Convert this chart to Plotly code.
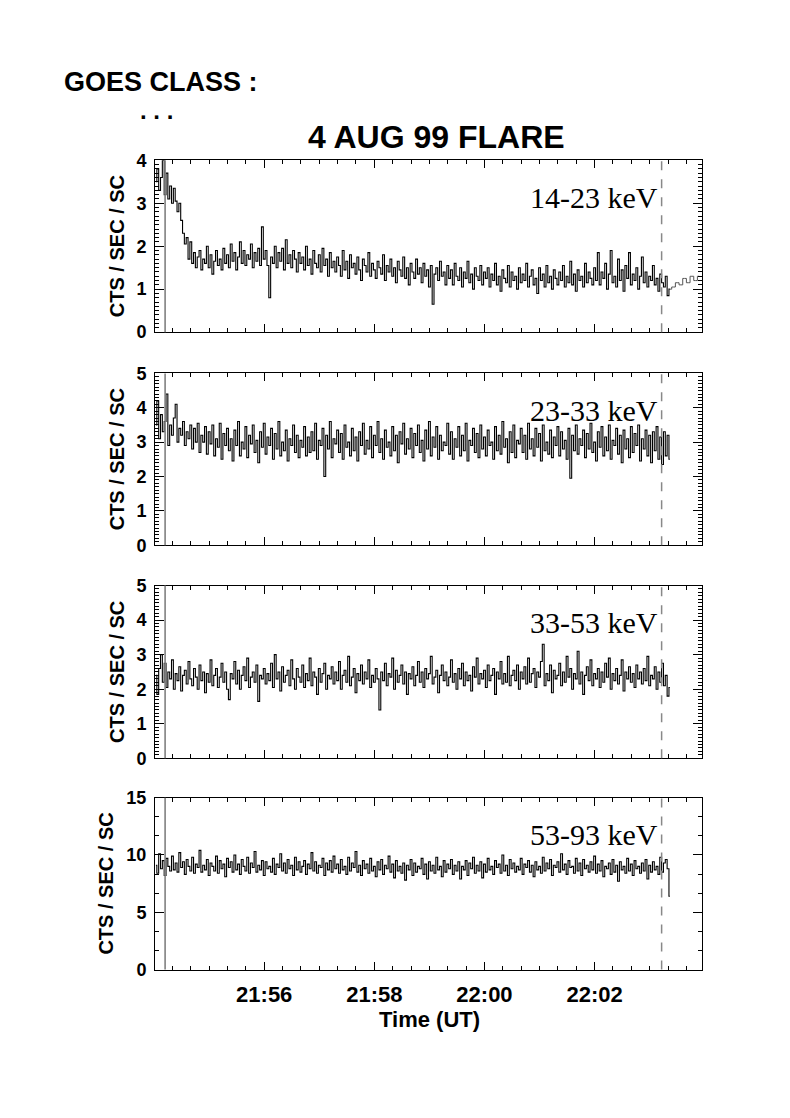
import plotly.graph_objects as go
import pandas as pd

W, H = 790, 1118

# ---------------- data (counts / sec / SC, 2 s bins) ----------------
BIN_START = "1999-08-04 21:54:02"
BIN_SECONDS = 2
TAIL_BIN_SECONDS = 4

rate_14_23 = [
    3.5, 3.8, 3.3, 3.6, 4.0, 3.2, 3.7, 3.1, 3.4, 3.0, 3.35, 3.05, 2.8, 3.0, 2.6, 2.3, 2.05, 2.2, 1.7, 2.1,
    1.6, 1.85, 1.5, 1.75, 1.9, 1.45, 1.7, 1.6, 2.0, 1.5, 1.8, 1.35, 1.65, 1.9, 1.55, 1.7, 1.45, 1.95, 1.6, 1.8,
    1.5, 2.05, 1.65, 1.85, 1.45, 1.75, 2.1, 1.6, 1.9, 1.55, 1.8, 1.7, 2.05, 1.5, 1.85, 1.65, 1.95, 1.55, 2.45, 1.7,
    1.9, 1.55, 0.8, 1.75, 1.6, 2.0, 1.5, 1.85, 1.65, 1.95, 1.45, 2.15, 1.6, 1.8, 1.5, 1.9, 1.7, 1.4, 1.85, 1.6,
    1.75, 1.45, 2.0, 1.55, 1.7, 1.35, 1.9, 1.6, 1.5, 1.8, 1.4, 1.95, 1.55, 1.7, 1.3, 1.85, 1.5, 1.65, 1.4, 1.75,
    1.55, 1.3, 1.9, 1.45, 1.65, 1.25, 1.8, 1.5, 1.6, 1.35, 1.75, 1.45, 1.2, 1.7, 1.55, 1.4, 1.85, 1.3, 1.6, 1.45,
    1.25, 1.65, 1.5, 1.35, 1.8, 1.2, 1.55, 1.4, 1.7, 1.3, 1.5, 1.15, 1.65, 1.45, 1.3, 1.75, 1.25, 1.5, 1.1, 1.6,
    1.4, 1.25, 1.7, 1.35, 1.5, 1.15, 1.6, 1.3, 1.45, 1.05, 1.55, 0.65, 1.35, 1.5, 1.2, 1.65, 1.3, 1.4, 1.1, 1.55,
    1.25, 1.45, 1.1, 1.6, 1.3, 1.2, 1.5, 1.05, 1.4, 1.25, 1.65, 1.15, 1.35, 1.0, 1.5, 1.3, 1.2, 1.55, 1.1, 1.4,
    1.25, 1.5, 1.05, 1.35, 1.2, 1.6, 1.1, 1.3, 0.95, 1.45, 1.25, 1.15, 1.55, 1.05, 1.4, 1.2, 1.3, 1.0, 1.5, 1.15,
    1.35, 1.2, 1.6, 1.05, 1.3, 1.45, 1.1, 1.25, 0.9, 1.5, 1.2, 1.35, 1.05, 1.55, 1.15, 1.3, 1.0, 1.45, 1.25, 1.1,
    1.4, 1.2, 1.55, 1.05, 1.3, 1.15, 1.65, 1.1, 1.35, 0.95, 1.45, 1.2, 1.3, 1.05, 1.6, 1.15, 1.4, 1.25, 1.1, 1.5,
    1.2, 1.85, 1.1, 1.4, 1.25, 1.6, 1.0, 1.35, 1.9, 1.15, 1.3, 1.05, 1.7, 1.2, 1.45, 0.95, 1.55, 1.25, 1.85, 1.1,
    1.35, 1.2, 1.5, 1.0, 1.3, 1.75, 1.15, 1.4, 1.05, 1.3, 1.2, 1.55, 1.1, 1.25, 0.95, 1.35, 1.15, 1.05, 1.3, 0.85,
    1.0,
]
tail_14_23 = [1.05, 1.15, 1.1, 1.25, 1.15, 1.3, 1.2, 1.3]

rate_23_33 = [
    3.5, 4.2, 3.1, 3.8, 3.3, 3.6, 4.4, 2.9, 3.5, 3.2, 3.7, 4.1, 3.0, 3.4, 3.2, 3.6, 2.9, 3.3, 3.1, 3.5,
    2.8, 3.4, 3.0, 3.55, 2.7, 3.2, 3.0, 3.45, 2.65, 3.3, 2.95, 3.5, 2.6, 3.1, 2.85, 3.55, 2.5, 3.25, 2.9, 3.4,
    2.75, 3.1, 2.45, 3.35, 2.9, 3.6, 2.6, 3.0, 2.8, 3.45, 2.55, 3.2, 2.95, 3.5, 2.7, 3.05, 2.4, 3.3, 2.85, 3.55,
    2.65, 3.15, 2.9, 3.4, 2.5, 3.25, 2.8, 3.6, 2.6, 3.0, 2.75, 3.35, 2.45, 3.1, 2.9, 3.5, 2.7, 3.2, 2.55, 3.05,
    2.85, 3.45, 2.6, 3.15, 2.7, 3.3, 2.75, 3.55, 2.5, 3.05, 2.9, 3.4, 2.0, 3.2, 2.8, 3.6, 2.55, 3.1, 2.95, 3.35,
    2.7, 3.25, 2.5, 3.5, 2.85, 3.0, 2.6, 3.4, 2.75, 3.15, 2.45, 3.3, 2.9, 3.55, 2.65, 3.05, 2.8, 3.45, 2.55, 3.2,
    2.9, 3.6, 2.7, 3.1, 2.5, 3.35, 2.85, 3.0, 2.6, 3.45, 2.75, 3.2, 2.4, 3.3, 2.95, 3.55, 2.65, 3.1, 2.8, 3.4,
    2.55, 3.25, 2.9, 3.5, 2.7, 3.05, 2.45, 3.35, 2.8, 3.6, 2.6, 3.15, 2.85, 3.45, 2.5, 3.2, 2.75, 3.0, 2.9, 3.55,
    2.65, 3.3, 2.5, 3.1, 2.85, 3.45, 2.6, 3.2, 2.75, 3.55, 2.45, 3.05, 2.9, 3.4, 2.7, 3.25, 2.55, 3.5, 2.8, 3.15,
    2.6, 3.35, 2.9, 3.0, 2.5, 3.45, 2.75, 3.2, 2.65, 3.6, 2.85, 3.1, 2.4, 3.3, 2.7, 3.5, 2.55, 3.05, 2.95, 3.4,
    2.7, 3.2, 2.5, 3.55, 2.8, 3.1, 2.6, 3.4, 2.85, 3.25, 2.45, 3.5, 2.75, 3.0, 2.65, 3.35, 2.55, 3.15, 2.9, 3.45,
    2.6, 3.3, 2.8, 3.05, 2.5, 3.4, 1.95, 3.2, 2.75, 3.5, 2.65, 3.1, 2.9, 3.35, 2.55, 3.25, 2.8, 3.55, 2.7, 3.0,
    2.45, 3.3, 2.85, 3.45, 2.6, 3.15, 2.75, 3.5, 2.5, 3.05, 2.9, 3.4, 2.65, 3.2, 2.4, 3.35, 2.8, 3.1, 2.55, 3.45,
    2.7, 3.25, 2.9, 3.5, 2.45, 3.1, 2.8, 3.35, 2.6, 3.2, 2.4, 3.3, 2.75, 3.45, 2.5, 3.15, 2.35, 3.3, 2.6, 3.2,
    2.5,
]

rate_33_53 = [
    2.4, 1.85, 2.6, 3.0, 2.2, 2.75, 2.05, 2.5, 2.3, 2.85, 2.0, 2.45, 2.25, 2.65, 1.95, 2.4, 2.55, 2.15, 2.8, 2.3,
    2.1, 2.6, 2.35, 2.0, 2.7, 2.25, 2.5, 1.9, 2.45, 2.2, 2.85, 2.1, 2.4, 2.6, 2.05, 2.35, 2.75, 2.2, 2.5, 2.0,
    1.7, 2.45, 2.3, 2.8, 2.15, 2.55, 2.0, 2.4, 2.65, 2.25, 2.9, 2.05, 2.35, 2.5, 2.2, 2.7, 1.65, 2.4, 2.3, 2.6,
    2.15, 2.45, 2.25, 2.75, 2.05, 3.0, 2.3, 2.5, 1.95, 2.65, 2.2, 2.4, 2.55, 2.1, 2.85, 2.3, 2.0, 2.6, 2.35, 2.2,
    2.7, 2.05, 2.45, 2.25, 2.9, 2.1, 2.5, 2.35, 1.85, 2.6, 2.2, 2.45, 2.75, 2.0, 2.4, 2.3, 2.65, 2.15, 2.5, 2.25,
    2.8, 2.0, 2.4, 2.55, 2.2, 2.95, 2.1, 2.35, 2.6, 1.9, 2.45, 2.25, 2.7, 2.15, 2.5, 2.3, 2.85, 2.05, 2.4, 2.2,
    2.6, 2.3, 1.4, 2.5, 2.25, 2.75, 2.1, 2.45, 2.35, 2.9, 2.0, 2.55, 2.2, 2.4, 2.7, 2.15, 2.5, 1.85, 2.45, 2.3,
    2.65, 2.1, 2.4, 2.8, 2.2, 2.5, 2.05, 2.6, 2.3, 2.45, 2.95, 2.15, 2.35, 2.55, 1.9, 2.4, 2.7, 2.25, 2.5, 2.1,
    2.35, 2.85, 2.2, 2.45, 2.0, 2.6, 2.3, 2.75, 2.1, 2.5, 2.25, 2.4, 1.95, 2.65, 2.35, 2.9, 2.15, 2.45, 2.3, 2.55,
    2.05, 2.7, 2.25, 2.4, 2.6, 1.85, 2.5, 2.3, 2.8, 2.15, 2.45, 2.2, 2.95, 2.1, 2.4, 2.55, 2.25, 2.7, 2.0, 2.5,
    2.3, 2.65, 2.15, 2.9, 2.2, 2.45, 2.6, 2.05, 2.5, 2.35, 2.8, 3.3, 2.1, 2.45, 2.25, 2.7, 1.9, 2.55, 2.3, 2.4,
    2.75, 2.1, 2.5, 2.2, 2.95, 2.35, 2.6, 2.0, 2.45, 2.3, 3.1, 2.15, 2.5, 1.85, 2.4, 2.65, 2.25, 2.85, 2.1, 2.45,
    2.3, 2.6, 2.05, 2.5, 2.2, 2.75, 2.35, 2.9, 2.0, 2.45, 2.25, 2.6, 2.15, 2.4, 2.85, 1.95, 2.5, 2.3, 2.65, 2.2,
    2.45, 2.05, 2.7, 2.3, 2.5, 2.15, 2.6, 2.25, 2.95, 2.1, 2.4, 2.3, 2.65, 2.0, 2.5, 2.2, 2.75, 2.1, 2.4, 1.8,
    2.05,
]

rate_53_93 = [
    9.1, 8.4, 10.1, 8.8, 9.5, 8.2, 9.7, 9.0, 8.6, 9.9, 8.7, 9.3, 8.5, 10.2, 8.9, 9.4, 8.3, 9.6, 9.0, 8.6,
    9.8, 8.4, 9.2, 8.9, 10.4, 8.5, 9.1, 8.7, 9.6, 8.2, 9.3, 9.0, 8.6, 9.9, 8.4, 9.5, 8.8, 9.2, 8.1, 9.7,
    8.9, 9.4, 8.5, 10.0, 8.7, 9.2, 8.3, 9.6, 9.0, 8.6, 9.8, 8.4, 9.3, 8.9, 10.3, 8.5, 9.1, 8.7, 9.5, 8.2,
    9.4, 8.8, 9.0, 8.5, 9.7, 8.3, 9.2, 8.9, 10.1, 8.6, 9.3, 8.4, 9.6, 8.8, 9.1, 8.2, 9.8, 8.7, 9.4, 8.5,
    9.0, 9.5, 8.3, 9.2, 8.8, 10.2, 8.6, 9.4, 8.4, 9.1, 8.9, 9.7, 8.2, 9.3, 8.7, 9.5, 8.5, 9.9, 8.8, 9.2,
    8.4, 9.6, 8.7, 9.0, 8.3, 9.8, 8.6, 9.3, 8.9, 10.3, 8.5, 9.1, 8.2, 9.5, 8.8, 9.2, 8.4, 9.7, 8.6, 9.0,
    8.1, 9.4, 8.7, 9.6, 8.3, 9.1, 8.8, 9.9, 8.5, 9.2, 8.0, 9.5, 8.6, 9.0, 8.4, 9.3, 7.8, 9.1, 8.7, 9.6,
    8.2, 9.3, 8.5, 9.0, 8.8, 9.7, 8.3, 9.2, 7.9, 9.4, 8.6, 9.1, 8.4, 9.8, 8.7, 9.0, 8.1, 9.5, 8.5, 9.2,
    8.8, 9.6, 8.3, 9.1, 8.6, 9.4, 7.9, 9.0, 8.7, 9.5, 8.2, 9.3, 8.8, 9.8, 8.4, 9.1, 8.6, 9.4, 8.0, 9.2,
    8.5, 9.7, 8.7, 9.0, 8.3, 9.5, 8.9, 9.2, 8.4, 10.0, 8.6, 9.1, 8.2, 9.6, 8.8, 9.3, 8.5, 9.0, 8.7, 9.7,
    8.3, 9.2, 8.9, 9.5, 8.5, 9.1, 8.1, 9.4, 8.7, 9.0, 8.4, 9.8, 8.6, 9.3, 8.8, 9.6, 8.2, 9.1, 8.9, 9.4,
    8.5, 10.1, 8.7, 9.2, 8.3, 9.5, 8.9, 9.0, 8.4, 9.7, 8.6, 9.3, 8.2, 9.6, 8.8, 9.1, 8.5, 9.4, 8.7, 9.9,
    8.4, 9.2, 8.6, 9.5, 8.1, 9.0, 8.8, 9.3, 8.3, 9.6, 8.5, 9.1, 7.7, 9.4, 8.7, 9.0, 8.4, 9.7, 8.6, 9.2,
    8.2, 9.5, 8.8, 9.0, 8.4, 9.3, 8.6, 9.6, 7.9, 9.1, 8.5, 9.4, 8.7, 9.0, 8.3, 9.8, 8.5, 9.3, 9.6, 8.8,
    6.4,
]

series = [rate_14_23, rate_23_33, rate_33_53, rate_53_93]
bands = ["14-23 keV", "23-33 keV", "33-53 keV", "53-93 keV"]
y_max = [4, 5, 5, 15]
y_major = [1, 1, 1, 5]
y_minor = [0.1, 0.1, 0.1, 5 / 3]

flare_start = "1999-08-04 21:54:12"
flare_end = "1999-08-04 22:03:13"
x_range = ["1999-08-04 21:54:01", "1999-08-04 22:03:57"]
x_tick0 = "1999-08-04 21:54:00"

# ---------------- layout geometry (pixels) ----------------
X0, X1 = 155, 702
panels_px = [(153, 328), (370, 545), (586, 762), (802, 977)]


def fy(px):
    return 1 - px / H


fig = go.Figure()

for k, vals in enumerate(series, start=1):
    t = pd.date_range(BIN_START, periods=len(vals), freq=f"{BIN_SECONDS}s")
    xa = "x" if k == 1 else f"x{k}"
    ya = "y" if k == 1 else f"y{k}"
    fig.add_trace(go.Scatter(x=t, y=vals, mode="lines", line_shape="hvh",
                             line=dict(color="#000000", width=1.1),
                             xaxis=xa, yaxis=ya, showlegend=False,
                             hoverinfo="skip"))
    if k == 1:
        tt = pd.date_range(t[-1] + pd.Timedelta(seconds=TAIL_BIN_SECONDS),
                           periods=len(tail_14_23), freq=f"{TAIL_BIN_SECONDS}s")
        fig.add_trace(go.Scatter(x=[t[-1]] + list(tt), y=[vals[-1]] + tail_14_23,
                                 mode="lines", line_shape="hvh",
                                 line=dict(color="#555555", width=1),
                                 xaxis=xa, yaxis=ya, showlegend=False,
                                 hoverinfo="skip"))

tickfont_y = dict(family="Liberation Sans", size=18, color="black", weight="bold")
tickfont_x = dict(family="Liberation Sans", size=22, color="black", weight="bold")

layout = dict(width=W, height=H, margin=dict(l=0, r=0, t=0, b=0),
              paper_bgcolor="white", plot_bgcolor="white", showlegend=False)

for k in range(1, 5):
    top, bot = panels_px[k - 1]
    xname = "xaxis" if k == 1 else f"xaxis{k}"
    yname = "yaxis" if k == 1 else f"yaxis{k}"
    xa = "x" if k == 1 else f"x{k}"
    ya = "y" if k == 1 else f"y{k}"
    layout[xname] = dict(
        domain=[X0 / W, X1 / W], anchor=ya, type="date", range=x_range,
        showline=True, linecolor="black", linewidth=1, mirror="ticks",
        ticks="inside", ticklen=8, tickwidth=1, tickcolor="black",
        tick0=x_tick0, dtick=120000, tickformat="%H:%M",
        showticklabels=(k == 4), tickfont=tickfont_x, ticklabelstandoff=5,
        minor=dict(ticks="inside", ticklen=4, dtick=20000, tickcolor="black",
                   showgrid=False),
        showgrid=False, zeroline=False,
    )
    layout[yname] = dict(
        domain=[fy(bot), fy(top)], anchor=xa, range=[0, y_max[k - 1]],
        showline=True, linecolor="black", linewidth=1, mirror="ticks",
        ticks="inside", ticklen=9, tickwidth=1, tickcolor="black",
        tick0=0, dtick=y_major[k - 1], tickfont=tickfont_y,
        ticklabelstandoff=4,
        minor=dict(ticks="inside", ticklen=4, dtick=y_minor[k - 1],
                   tickcolor="black", showgrid=False),
        showgrid=False, zeroline=False,
    )

fig.update_layout(**layout)

shapes = []
annotations = []
for k in range(1, 5):
    top, bot = panels_px[k - 1]
    xa = "x" if k == 1 else f"x{k}"
    ya = "y" if k == 1 else f"y{k}"
    shapes.append(dict(type="line", xref=xa, yref=f"{ya} domain",
                       x0=flare_start, x1=flare_start, y0=0, y1=1,
                       line=dict(color="#808080", width=1.6)))
    shapes.append(dict(type="line", xref=xa, yref=f"{ya} domain",
                       x0=flare_end, x1=flare_end, y0=0, y1=1,
                       line=dict(color="#888888", width=1.5, dash="dash")))
    annotations.append(dict(text=bands[k - 1], xref="paper", yref="paper",
                            x=660 / W, y=fy(top + 38), xanchor="right",
                            yanchor="middle", showarrow=False,
                            font=dict(family="Liberation Serif", size=30,
                                      color="black")))
    annotations.append(dict(text="CTS / SEC / SC", xref="paper", yref="paper",
                            x=(117 if k < 4 else 106) / W,
                            y=fy((top + bot) / 2), textangle=-90,
                            xanchor="center", yanchor="middle", showarrow=False,
                            font=dict(family="Liberation Sans", size=20,
                                      color="black", weight="bold")))

annotations.append(dict(text="Time (UT)", xref="paper", yref="paper",
                        x=429 / W, y=fy(1028), xanchor="center",
                        yanchor="middle", showarrow=False,
                        font=dict(family="Liberation Sans", size=22,
                                  color="black", weight="bold")))
annotations.append(dict(text="4 AUG 99 FLARE", xref="paper", yref="paper",
                        x=437 / W, y=fy(129), xanchor="center",
                        yanchor="middle", showarrow=False,
                        font=dict(family="Liberation Sans", size=32,
                                  color="black", weight="bold")))
annotations.append(dict(text="GOES CLASS :", xref="paper", yref="paper",
                        x=62 / W, y=fy(73), xanchor="left",
                        yanchor="middle", showarrow=False,
                        font=dict(family="Liberation Sans", size=27,
                                  color="black", weight="bold")))
annotations.append(dict(text=". . .", xref="paper", yref="paper",
                        x=156 / W, y=fy(102), xanchor="center",
                        yanchor="middle", showarrow=False,
                        font=dict(family="Liberation Sans", size=24,
                                  color="black", weight="bold")))

fig.update_layout(shapes=shapes, annotations=annotations)
fig.write_html("out.html",
               config={"displayModeBar": False, "staticPlot": True},
               post_script="document.body.style.margin='0';"
                           "document.body.style.overflow='hidden';")
